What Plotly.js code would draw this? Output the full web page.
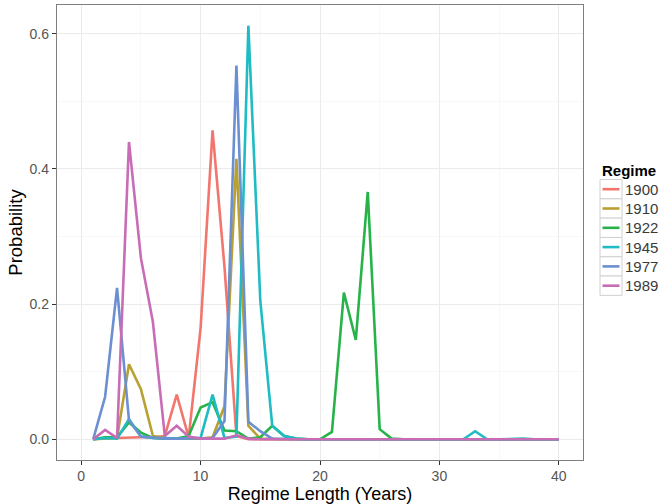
<!DOCTYPE html>
<html>
<head>
<meta charset="utf-8">
<script src="https://cdn.plot.ly/plotly-3.0.1.min.js"></script>
<style>html,body{margin:0;padding:0;background:#fff;}#chart{width:661px;height:504px;}</style>
</head>
<body>
<div id="chart"></div>
<script>
// Regime length in years (x) and probability per regime
var years = [];
for (var k = 1; k <= 40; k++) years.push(k);

var regimes = ['1900', '1910', '1922', '1945', '1977', '1989'];

var p1900 = [0, 0.002, 0.002, 0.003, 0.003, 0.003, 0.005, 0.066, 0.003, 0.165,
             0.457, 0.255, 0.005, 0, 0, 0, 0, 0, 0, 0,
             0, 0, 0, 0, 0, 0, 0, 0, 0, 0,
             0, 0, 0, 0, 0, 0, 0, 0, 0, 0];
var p1910 = [0, 0.001, 0.002, 0.111, 0.074, 0.005, 0.002, 0.001, 0.001, 0.001,
             0.003, 0.049, 0.415, 0.02, 0.001, 0, 0, 0, 0, 0,
             0, 0, 0, 0, 0, 0, 0, 0, 0, 0,
             0, 0, 0, 0, 0, 0, 0, 0, 0, 0];
var p1922 = [0, 0.003, 0.003, 0.025, 0.01, 0.002, 0.001, 0.001, 0.005, 0.047,
             0.055, 0.013, 0.012, 0.001, 0.003, 0.02, 0.005, 0.001, 0, 0,
             0.011, 0.217, 0.147, 0.366, 0.015, 0.001, 0, 0, 0, 0,
             0, 0, 0, 0, 0, 0, 0, 0, 0, 0];
var p1945 = [0, 0.002, 0.001, 0.03, 0.004, 0.002, 0.002, 0.001, 0.002, 0.002,
             0.066, 0.002, 0.004, 0.612, 0.205, 0.02, 0.005, 0.001, 0, 0,
             0, 0, 0, 0, 0, 0, 0, 0, 0, 0,
             0, 0, 0.012, 0, 0, 0.001, 0.001, 0, 0, 0];
var p1977 = [0, 0.063, 0.224, 0.028, 0.004, 0.002, 0.001, 0.001, 0.001, 0.001,
             0.002, 0.027, 0.553, 0.026, 0.012, 0.001, 0, 0, 0, 0,
             0, 0, 0, 0, 0, 0, 0, 0, 0, 0,
             0, 0, 0, 0, 0, 0, 0, 0, 0, 0];
var p1989 = [0, 0.014, 0.002, 0.44, 0.268, 0.174, 0.005, 0.02, 0.004, 0.001,
             0.001, 0.001, 0.006, 0.001, 0, 0, 0, 0, 0, 0,
             0, 0, 0, 0, 0, 0, 0, 0, 0, 0,
             0, 0, 0, 0, 0, 0, 0, 0, 0, 0];

var xTicks = [0, 10, 20, 30, 40];
var yTicks = [0, 0.2, 0.4, 0.6];
var yTickLabels = ['0.0', '0.2', '0.4', '0.6'];

var seriesValues = [p1900, p1910, p1922, p1945, p1977, p1989];
var colors = ['#F2766E', '#B9A032', '#27B34A', '#1FBCC3', '#6C8FD1', '#C86CB6'];

var W = 661, H = 504;
var M = {l: 57, r: 78, t: 5, b: 44};
var PW = W - M.l - M.r, PH = H - M.t - M.b;
function px(x) { return (x - M.l) / PW; }
function py(y) { return (H - M.b - y) / PH; }

var traces = regimes.map(function (name, i) {
  return {
    x: years, y: seriesValues[i], name: name, type: 'scatter', mode: 'lines',
    line: {color: colors[i], width: 2.6}, hoverinfo: 'skip', showlegend: false
  };
});

// custom ggplot-style legend
var shapes = [], annotations = [];
annotations.push({xref: 'paper', yref: 'paper', x: px(600), y: py(170), xanchor: 'left', yanchor: 'middle',
  text: '<b>Regime</b>', showarrow: false, font: {family: 'Liberation Sans, Arial, sans-serif', size: 15, color: '#000'}});
var step = 19.3, first = 189.2;
regimes.forEach(function (name, i) {
  var cy = first + step * i;
  shapes.push({type: 'rect', xref: 'paper', yref: 'paper', x0: px(600), x1: px(622), y0: py(cy - step / 2), y1: py(cy + step / 2),
    line: {color: '#D0D0D0', width: 1}, fillcolor: '#fff', layer: 'above'});
  shapes.push({type: 'line', xref: 'paper', yref: 'paper', x0: px(602.5), x1: px(619.5), y0: py(cy), y1: py(cy),
    line: {color: colors[i], width: 2.6}, layer: 'above'});
  annotations.push({xref: 'paper', yref: 'paper', x: px(623), y: py(cy), xanchor: 'left', yanchor: 'middle',
    text: name, showarrow: false, font: {family: 'Liberation Sans, Arial, sans-serif', size: 15, color: '#3A3A3A'}});
});

var axisCommon = {
  showgrid: true, gridcolor: '#EBEBEB', gridwidth: 1,
  showline: true, mirror: true, linecolor: '#7F7F7F', linewidth: 1.2,
  ticks: 'outside', ticklen: 4, tickwidth: 1, tickcolor: '#333',
  zeroline: false, automargin: false,
  tickfont: {family: 'Liberation Sans, Arial, sans-serif', size: 14, color: '#555555'}
};

var layout = {
  width: W, height: H, margin: M,
  paper_bgcolor: '#fff', plot_bgcolor: '#fff',
  font: {family: 'Liberation Sans, Arial, sans-serif'},
  xaxis: Object.assign({}, axisCommon, {
    range: [-2.03, 42.03], tickvals: xTicks, ticklabelstandoff: -1,
    minor: {dtick: 5, tick0: 0, showgrid: true, gridcolor: '#F6F6F6', gridwidth: 0.8, ticks: ''},
    title: {text: 'Regime Length (Years)', standoff: 9, font: {size: 18, color: '#000'}}
  }),
  yaxis: Object.assign({}, axisCommon, {
    range: [-0.0306, 0.6426], tickvals: yTicks, ticktext: yTickLabels,
    minor: {dtick: 0.1, tick0: 0, showgrid: true, gridcolor: '#F6F6F6', gridwidth: 0.8, ticks: ''},
    title: {text: 'Probability', standoff: 2, font: {size: 18.5, color: '#000'}}
  }),
  shapes: shapes, annotations: annotations
};

Plotly.newPlot('chart', traces, layout, {displayModeBar: false, staticPlot: true});
</script>
</body>
</html>
